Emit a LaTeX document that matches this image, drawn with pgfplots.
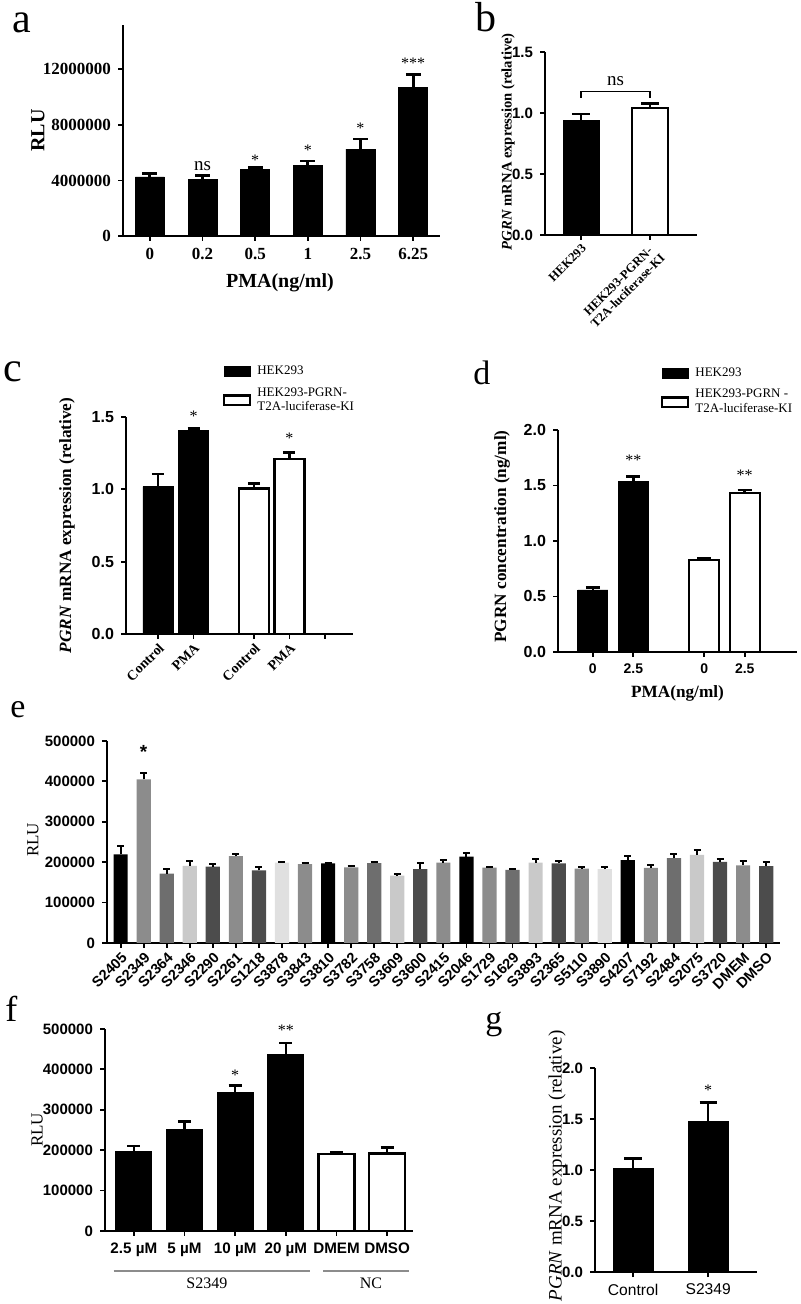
\documentclass[border=0pt]{standalone}
\usepackage{fontspec}
\setmainfont{Liberation Serif}
\setsansfont{Liberation Sans}
\usepackage{pgfplots}
\pgfplotsset{compat=1.18}
\pgfplotsset{
  gp/.style={
    scale only axis, axis lines=left, axis line style={-, line width=0.9pt},
    tick align=outside, major tick length=2.5pt,
    every tick/.style={line width=0.9pt, black},
    ymin=0, clip=false, enlargelimits=false, scaled ticks=false,
    tick label style={font=\sffamily\bfseries\fontsize{7.5}{8}\selectfont},
  },
  eb/.style 2 args={
    /pgfplots/error bars/y dir=plus, /pgfplots/error bars/y explicit,
    /pgfplots/error bars/error bar style={line width=#1, black},
    /pgfplots/error bars/error mark options={rotate=90, mark size=#2, line width=#1, black},
  },
  ylabpos/.style 2 args={every axis y label/.style={at={(axis description cs:#1,#2)}, rotate=90, anchor=center}},
  xlabpos/.style 2 args={every axis x label/.style={at={(axis description cs:#1,#2)}, anchor=center}},
  gplegend/.style={legend style={at={#1}, anchor=north west, draw=none, fill=none, inner sep=0pt, outer sep=0pt, row sep=3pt, column sep=2pt, font=\rmfamily\fontsize{6.5}{7.2}\selectfont, nodes={align=left, inner sep=1pt}}, legend cell align=left, legend image code/.code={\draw[##1] (0pt,-2.4pt) rectangle (13pt,2.4pt);}},
}
\tikzset{star/.style={font=\rmfamily\fontsize{8}{8}\selectfont, anchor=center, yshift=-1.6pt, inner sep=0pt}}
\begin{document}
\begin{tikzpicture}
\useasboundingbox (0,0) rectangle (400pt,652pt);
% panel letters
\node[anchor=base west, inner sep=0pt, font=\rmfamily\fontsize{21}{21}\selectfont] at (6pt,635.5pt) {a};
\node[anchor=base west, inner sep=0pt, font=\rmfamily\fontsize{21}{21}\selectfont] at (237.5pt,636pt) {b};
\node[anchor=base west, inner sep=0pt, font=\rmfamily\fontsize{21}{21}\selectfont] at (1.5pt,461pt) {c};
\node[anchor=base west, inner sep=0pt, font=\rmfamily\fontsize{17}{17}\selectfont] at (236.5pt,459.5pt) {d};
\node[anchor=base west, inner sep=0pt, font=\rmfamily\fontsize{17}{17}\selectfont] at (5pt,293pt) {e};
\node[anchor=base west, inner sep=0pt, font=\rmfamily\fontsize{18}{18}\selectfont] at (2.5pt,141pt) {f};
\node[anchor=base west, inner sep=0pt, font=\rmfamily\fontsize{17}{17}\selectfont] at (242.5pt,137pt) {g};

% ---------------- panel a
\begin{axis}[gp, at={(61.5pt,534pt)}, anchor=south west, width=158.5pt, height=105.5pt,
  xmin=-0.51, xmax=5.51, ymax=15200000,
  xtick={0,1,2,3,4,5}, xticklabels={0,0.2,0.5,1,2.5,6.25},
  ytick={0,4000000,8000000,12000000}, yticklabels={0,4000000,8000000,12000000},
  tick label style={font=\rmfamily\bfseries\fontsize{8.5}{9}\selectfont},
  ylabel={RLU}, xlabel={PMA(ng/ml)},
  ylabpos={-0.268}{0.5}, xlabpos={0.495}{-0.223},
  label style={font=\rmfamily\bfseries\fontsize{10}{11}\selectfont},
]
\addplot[ybar, bar width=14.5pt, fill=black, draw=black, eb={1.4pt}{3.7pt}] coordinates {
 (0,4250000) +- (0,250000)
 (1,4100000) +- (0,240000)
 (2,4800000) +- (0,140000)
 (3,5100000) +- (0,300000)
 (4,6250000) +- (0,730000)
 (5,10700000) +- (0,950000)
};
\node[font=\rmfamily\fontsize{9.5}{10}\selectfont, anchor=center] at (axis cs:1,5060000) {ns};
\node[star] at (axis cs:2,5680000) {*};
\node[star] at (axis cs:3,6400000) {*};
\node[star] at (axis cs:4,7990000) {*};
\node[star] at (axis cs:5,12660000) {***};
\end{axis}

% ---------------- panel b
\begin{axis}[gp, at={(272.5pt,534.5pt)}, anchor=south west, width=76pt, height=91.5pt,
  xmin=-0.52, xmax=1.68, ymax=1.5,
  xtick={0,1}, xticklabels={HEK293,{HEK293-PGRN-\\T2A-luciferase-KI}},
  xticklabel style={rotate=45, anchor=north east, align=center, inner sep=1pt, font=\rmfamily\bfseries\fontsize{6.3}{6.8}\selectfont},
  ytick={0,0.5,1,1.5}, yticklabels={0.0,0.5,1.0,1.5},
  ylabel={\textit{PGRN} mRNA expression (relative)},
  ylabpos={-0.243}{0.51},
  label style={font=\rmfamily\bfseries\fontsize{7.3}{8}\selectfont},
]
\addplot[ybar, bar width=18pt, fill=black, draw=black, eb={1.3pt}{4.5pt}] coordinates {(0,0.943) +- (0,0.047)};
\addplot[ybar, bar width=18pt, fill=white, draw=black, line width=1.2pt, eb={1.3pt}{4.5pt}] coordinates {(1,1.04) +- (0,0.04)};
\draw[line width=0.7pt] (axis cs:0,1.125) -- (axis cs:0,1.175) -- (axis cs:1,1.175) -- (axis cs:1,1.125);
\node[font=\rmfamily\fontsize{9.5}{10}\selectfont, anchor=center] at (axis cs:0.5,1.26) {ns};
\end{axis}

% ---------------- panel c
\begin{axis}[gp, at={(63pt,335pt)}, anchor=south west, width=113.5pt, height=108.5pt,
  xmin=-0.9, xmax=5.49, ymax=1.5,
  xtick={0,1,2.7,3.7,4.7}, xticklabels={Control,PMA,Control,PMA,{}},
  xticklabel style={rotate=45, anchor=north east, inner sep=1pt, font=\rmfamily\bfseries\fontsize{7}{8}\selectfont},
  ytick={0,0.5,1,1.5}, yticklabels={0.0,0.5,1.0,1.5},
  yticklabel style={font=\sffamily\bfseries\fontsize{8}{9}\selectfont},
  ylabel={\textit{PGRN} mRNA expression (relative)},
  ylabpos={-0.26}{0.5},
  label style={font=\rmfamily\bfseries\fontsize{8.6}{9}\selectfont},
  gplegend={(axis description cs:0.427,1.245)},
]
\addplot[ybar, bar width=15pt, fill=black, draw=black, eb={1.3pt}{3pt}] coordinates {(0,1.018) +- (0,0.088) (1,1.41) +- (0,0.01)};
\addlegendentry{HEK293}
\addplot[ybar, bar width=15pt, fill=white, draw=black, line width=1.2pt, eb={1.3pt}{3pt}] coordinates {(2.7,1.007) +- (0,0.033) (3.7,1.21) +- (0,0.046)};
\addlegendentry{HEK293-PGRN-\\T2A-luciferase-KI}
\node[star] at (axis cs:1,1.53) {*};
\node[star] at (axis cs:3.7,1.375) {*};
\end{axis}

% ---------------- panel d
\begin{axis}[gp, at={(279pt,326pt)}, anchor=south west, width=119.5pt, height=111pt,
  xmin=-0.86, xmax=5.04, ymax=2,
  xtick={0,1,2.75,3.75}, xticklabels={0,2.5,0,2.5},
  xticklabel style={font=\sffamily\bfseries\fontsize{7}{8}\selectfont},
  ytick={0,0.5,1,1.5,2}, yticklabels={0.0,0.5,1.0,1.5,2.0},
  yticklabel style={font=\sffamily\bfseries\fontsize{8}{9}\selectfont},
  ylabel={PGRN concentration (ng/ml)}, xlabel={PMA(ng/ml)},
  ylabpos={-0.234}{0.52}, xlabpos={0.5}{-0.185},
  label style={font=\rmfamily\bfseries\fontsize{8.6}{9}\selectfont},
  gplegend={(axis description cs:0.431,1.29)},
]
\addplot[ybar, bar width=15pt, fill=black, draw=black, eb={1.3pt}{3.5pt}] coordinates {(0,0.559) +- (0,0.02) (1,1.534) +- (0,0.045)};
\addlegendentry{HEK293}
\addplot[ybar, bar width=15pt, fill=white, draw=black, line width=1.2pt, eb={1.3pt}{3.5pt}] coordinates {(2.75,0.829) +- (0,0.015) (3.75,1.43) +- (0,0.03)};
\addlegendentry{HEK293-PGRN -\\T2A-luciferase-KI}
\node[star] at (axis cs:1,1.757) {**};
\node[star] at (axis cs:3.75,1.62) {**};
\end{axis}

% ---------------- panel e
\begin{axis}[gp, at={(53.5pt,180.5pt)}, anchor=south west, width=336.5pt, height=101pt,
  xmin=-0.59, xmax=28.6, ymax=500000,
  xtick={0,...,28},
  xticklabels={S2405,S2349,S2364,S2346,S2290,S2261,S1218,S3878,S3843,S3810,S3782,S3758,S3609,S3600,S2415,S2046,S1729,S1629,S3893,S2365,S5110,S3890,S4207,S7192,S2484,S2075,S3720,DMEM,DMSO},
  xticklabel style={rotate=45, anchor=north east, inner sep=1pt, font=\sffamily\bfseries\fontsize{7.3}{8}\selectfont},
  ytick={0,100000,200000,300000,400000,500000}, yticklabels={0,100000,200000,300000,400000,500000},
  ylabel={RLU}, ylabpos={-0.11}{0.51},
  label style={font=\rmfamily\fontsize{8.5}{9}\selectfont},
]
\addplot[ybar, bar width=7.1pt, fill=black, draw=none, eb={1pt}{1.75pt}] coordinates {
 (0,219500) +- (0,20500) (9,197000) +- (0,2000) (15,214000) +- (0,8000) (22,205000) +- (0,11000)};
\addplot[ybar, bar width=7.1pt, fill=black!45, draw=none, eb={1pt}{1.75pt}] coordinates {
 (1,405000) +- (0,15000) (5,215000) +- (0,5000) (8,195500) +- (0,2500) (10,187000) +- (0,3000)
 (14,199000) +- (0,6000) (16,186500) +- (0,2500) (20,184000) +- (0,3000) (23,186000) +- (0,6000)
 (27,192000) +- (0,10000)};
\addplot[ybar, bar width=7.1pt, fill=black!57, draw=none, eb={1pt}{1.75pt}] coordinates {
 (2,172000) +- (0,11000) (11,198000) +- (0,2000) (17,181000) +- (0,2500) (24,210000) +- (0,10000)};
\addplot[ybar, bar width=7.1pt, fill=black!21, draw=none, eb={1pt}{1.75pt}] coordinates {
 (3,191000) +- (0,11000) (12,167000) +- (0,5000) (18,199000) +- (0,8000) (25,218000) +- (0,12000)};
\addplot[ybar, bar width=7.1pt, fill=black!70, draw=none, eb={1pt}{1.75pt}] coordinates {
 (4,189000) +- (0,6000) (6,180000) +- (0,7000) (13,183000) +- (0,16000) (19,197000) +- (0,5000)
 (26,201000) +- (0,6000) (28,190000) +- (0,11000)};
\addplot[ybar, bar width=7.1pt, fill=black!12, draw=none, eb={1pt}{1.75pt}] coordinates {
 (7,199000) +- (0,2000) (21,183000) +- (0,6000)};
\node[star, font=\sffamily\bfseries\fontsize{9.5}{10}\selectfont] at (axis cs:1,480000) {*};
\end{axis}

% ---------------- panel f
\begin{axis}[gp, at={(52.5pt,36.5pt)}, anchor=south west, width=154pt, height=101pt,
  xmin=-0.57, xmax=5.51, ymax=500000,
  xtick={0,...,5}, xticklabels={2.5 µM,5 µM,10 µM,20 µM,DMEM,DMSO},
  xticklabel style={font=\sffamily\bfseries\fontsize{7.6}{8}\selectfont},
  ytick={0,100000,200000,300000,400000,500000}, yticklabels={0,100000,200000,300000,400000,500000},
  ylabel={RLU}, ylabpos={-0.22}{0.5},
  label style={font=\rmfamily\fontsize{8.5}{9}\selectfont},
]
\addplot[ybar, bar width=18pt, fill=black, draw=black, eb={1.2pt}{3.3pt}] coordinates {
 (0,197000) +- (0,13000) (1,252000) +- (0,19000) (2,342000) +- (0,18000) (3,437000) +- (0,29000)};
\addplot[ybar, bar width=18pt, fill=white, draw=black, line width=1.1pt, eb={1.2pt}{3.3pt}] coordinates {
 (4,190000) +- (0,4000) (5,192000) +- (0,15000)};
\node[star] at (axis cs:2,394000) {*};
\node[star] at (axis cs:3,505000) {**};
\draw[black!45, line width=0.9pt] (axis cs:-0.4,-99000) -- (axis cs:3.48,-99000);
\draw[black!45, line width=0.9pt] (axis cs:3.74,-99000) -- (axis cs:5.43,-99000);
\node[font=\rmfamily\fontsize{8}{9}\selectfont] at (axis cs:1.44,-129000) {S2349};
\node[font=\rmfamily\fontsize{8}{9}\selectfont] at (axis cs:4.68,-129000) {NC};
\end{axis}

% ---------------- panel g
\begin{axis}[gp, at={(297.5pt,16pt)}, anchor=south west, width=81pt, height=102pt,
  xmin=-0.507, xmax=1.65, ymax=2,
  xtick={0,1}, xticklabels={Control,S2349},
  xticklabel style={font=\sffamily\fontsize{7.8}{8}\selectfont},
  ytick={0,0.5,1,1.5,2}, yticklabels={0.0,0.5,1.0,1.5,2.0},
  ylabel={\textit{PGRN} mRNA expression (relative)},
  ylabpos={-0.235}{0.52},
  label style={font=\rmfamily\fontsize{9.5}{10}\selectfont},
]
\addplot[ybar, bar width=20pt, fill=black, draw=black, eb={1.2pt}{4.3pt}] coordinates {
 (0,1.013) +- (0,0.10) (1,1.474) +- (0,0.186)};
\node[star] at (axis cs:1,1.81) {*};
\end{axis}
\end{tikzpicture}
\end{document}
